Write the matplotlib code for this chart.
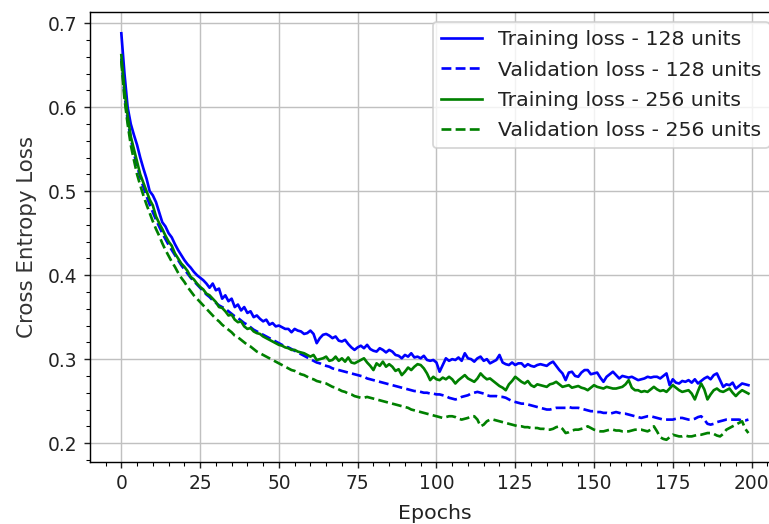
import matplotlib
matplotlib.use("Agg")
import matplotlib.pyplot as plt
import numpy as np

epochs = np.arange(200)

train_loss_128 = [
    0.688, 0.640, 0.600, 0.580, 0.567, 0.555, 0.540, 0.527, 0.515, 0.500,
    0.495, 0.487, 0.475, 0.463, 0.458, 0.450, 0.445, 0.437, 0.430, 0.424,
    0.418, 0.413, 0.409, 0.404, 0.400, 0.397, 0.394, 0.390, 0.385, 0.390,
    0.382, 0.384, 0.372, 0.376, 0.369, 0.372, 0.362, 0.365, 0.358, 0.362,
    0.355, 0.357, 0.350, 0.352, 0.348, 0.345, 0.347, 0.341, 0.343, 0.339,
    0.340, 0.338, 0.336, 0.336, 0.332, 0.336, 0.334, 0.333, 0.330, 0.331,
    0.334, 0.330, 0.319, 0.325, 0.329, 0.330, 0.328, 0.325, 0.327, 0.322,
    0.321, 0.323, 0.318, 0.314, 0.311, 0.314, 0.316, 0.313, 0.317, 0.312,
    0.310, 0.309, 0.313, 0.311, 0.308, 0.311, 0.309, 0.305, 0.304, 0.301,
    0.305, 0.303, 0.307, 0.302, 0.303, 0.301, 0.304, 0.299, 0.298, 0.299,
    0.296, 0.285, 0.293, 0.301, 0.298, 0.300, 0.299, 0.302, 0.298, 0.307,
    0.301, 0.300, 0.297, 0.301, 0.303, 0.298, 0.300, 0.295, 0.297, 0.299,
    0.305, 0.296, 0.294, 0.293, 0.296, 0.293, 0.295, 0.295, 0.291, 0.294,
    0.292, 0.291, 0.293, 0.294, 0.293, 0.292, 0.295, 0.297, 0.292, 0.287,
    0.283, 0.275, 0.284, 0.285, 0.280, 0.279, 0.284, 0.287, 0.287, 0.282,
    0.283, 0.284, 0.278, 0.273, 0.279, 0.282, 0.285, 0.281, 0.277, 0.280,
    0.279, 0.278, 0.279, 0.277, 0.275, 0.276, 0.277, 0.279, 0.278, 0.279,
    0.279, 0.277, 0.280, 0.283, 0.269, 0.276, 0.272, 0.271, 0.274, 0.273,
    0.275, 0.272, 0.276, 0.271, 0.274, 0.277, 0.279, 0.276, 0.281, 0.283,
    0.275, 0.267, 0.270, 0.269, 0.272, 0.265, 0.268, 0.271, 0.270, 0.269,
]

val_loss_128 = [
    0.658, 0.615, 0.585, 0.562, 0.545, 0.530, 0.517, 0.505, 0.494, 0.484,
    0.475, 0.466, 0.458, 0.450, 0.443, 0.436, 0.430, 0.424, 0.418, 0.412,
    0.407, 0.402, 0.397, 0.393, 0.389, 0.385, 0.381, 0.377, 0.374, 0.370,
    0.367, 0.364, 0.362, 0.360, 0.357, 0.354, 0.351, 0.349, 0.346, 0.343,
    0.341, 0.338, 0.335, 0.333, 0.331, 0.329, 0.327, 0.325, 0.323, 0.321,
    0.319, 0.317, 0.315, 0.314, 0.312, 0.310, 0.308, 0.306, 0.304, 0.302,
    0.300, 0.298, 0.296, 0.295, 0.293, 0.292, 0.291, 0.289, 0.288, 0.287,
    0.286, 0.285, 0.284, 0.283, 0.282, 0.281, 0.280, 0.279, 0.277, 0.276,
    0.275, 0.274, 0.273, 0.272, 0.271, 0.270, 0.269, 0.268, 0.267, 0.266,
    0.265, 0.264, 0.263, 0.262, 0.262, 0.261, 0.260, 0.260, 0.259, 0.259,
    0.258, 0.258, 0.257, 0.256, 0.254, 0.253, 0.252, 0.253, 0.255, 0.256,
    0.257, 0.259, 0.260, 0.261, 0.260, 0.259, 0.257, 0.256, 0.256, 0.256,
    0.255, 0.255, 0.254, 0.252, 0.250, 0.249, 0.248, 0.247, 0.247, 0.246,
    0.245, 0.244, 0.243, 0.242, 0.241, 0.240, 0.240, 0.241, 0.242, 0.242,
    0.242, 0.242, 0.243, 0.242, 0.242, 0.242, 0.241, 0.240, 0.239, 0.238,
    0.238, 0.237, 0.237, 0.236, 0.236, 0.235, 0.236, 0.237, 0.236, 0.235,
    0.235, 0.234, 0.233, 0.232, 0.231, 0.230, 0.231, 0.232, 0.232, 0.231,
    0.230, 0.229, 0.228, 0.228, 0.228, 0.228, 0.229, 0.230, 0.230, 0.229,
    0.228, 0.228, 0.229, 0.231, 0.232, 0.228, 0.223, 0.222, 0.223, 0.225,
    0.226, 0.227, 0.228, 0.228, 0.228, 0.228, 0.228, 0.227, 0.227, 0.228,
]

train_loss_256 = [
    0.662, 0.620, 0.590, 0.565, 0.550, 0.535, 0.520, 0.510, 0.500, 0.490,
    0.483, 0.470, 0.462, 0.455, 0.447, 0.440, 0.435, 0.426, 0.420, 0.414,
    0.410, 0.405, 0.398, 0.395, 0.390, 0.386, 0.383, 0.378, 0.376, 0.372,
    0.368, 0.362, 0.361, 0.357, 0.352, 0.353, 0.347, 0.344, 0.345, 0.339,
    0.336, 0.337, 0.333, 0.331, 0.330, 0.327, 0.325, 0.323, 0.321, 0.319,
    0.317, 0.316, 0.314, 0.313, 0.311, 0.311, 0.309, 0.308, 0.307, 0.305,
    0.303, 0.305, 0.299, 0.300, 0.301, 0.303, 0.298, 0.299, 0.303, 0.298,
    0.301, 0.297, 0.302, 0.296, 0.295, 0.297, 0.299, 0.301, 0.296, 0.292,
    0.287, 0.295, 0.292, 0.297, 0.291, 0.294, 0.291, 0.286, 0.288, 0.281,
    0.285, 0.290, 0.287, 0.291, 0.294, 0.293, 0.289, 0.283, 0.275, 0.279,
    0.276, 0.275, 0.278, 0.276, 0.279, 0.276, 0.271, 0.275, 0.278, 0.281,
    0.277, 0.275, 0.273, 0.277, 0.283, 0.279, 0.276, 0.277, 0.274, 0.271,
    0.268, 0.266, 0.263, 0.270, 0.274, 0.279, 0.276, 0.273, 0.271, 0.274,
    0.269, 0.267, 0.270, 0.269, 0.268, 0.267, 0.270, 0.271, 0.273, 0.270,
    0.267, 0.268, 0.269, 0.266, 0.267, 0.268, 0.266, 0.265, 0.263, 0.266,
    0.269, 0.267, 0.266, 0.265, 0.267, 0.266, 0.265, 0.265, 0.266, 0.267,
    0.270, 0.275, 0.266, 0.263, 0.263, 0.261, 0.262, 0.261, 0.264, 0.267,
    0.264, 0.262, 0.263, 0.261, 0.265, 0.269, 0.266, 0.263, 0.261, 0.262,
    0.263, 0.259, 0.252, 0.262, 0.271, 0.264, 0.252, 0.258, 0.263, 0.265,
    0.262, 0.261, 0.263, 0.265, 0.260, 0.256, 0.260, 0.263, 0.261, 0.259,
]

val_loss_256 = [
    0.655, 0.610, 0.580, 0.555, 0.537, 0.520, 0.507, 0.495, 0.484, 0.474,
    0.464, 0.455, 0.447, 0.438, 0.430, 0.423, 0.416, 0.410, 0.403, 0.397,
    0.392, 0.386, 0.381, 0.376, 0.372, 0.368, 0.364, 0.360, 0.356, 0.352,
    0.348, 0.345, 0.341, 0.338, 0.335, 0.332, 0.328, 0.326, 0.323, 0.320,
    0.317, 0.315, 0.312, 0.309, 0.307, 0.305, 0.303, 0.301, 0.299, 0.297,
    0.295, 0.293, 0.291, 0.289, 0.287, 0.286, 0.284, 0.282, 0.281, 0.279,
    0.277, 0.276, 0.274, 0.273, 0.272, 0.271, 0.269, 0.267, 0.266, 0.264,
    0.262, 0.261, 0.259, 0.258, 0.256, 0.255, 0.254, 0.254, 0.255, 0.254,
    0.253, 0.252, 0.251, 0.250, 0.249, 0.248, 0.247, 0.246, 0.245, 0.244,
    0.243, 0.242, 0.240, 0.239, 0.238, 0.237, 0.236, 0.235, 0.234, 0.233,
    0.232, 0.231, 0.230, 0.231, 0.232, 0.232, 0.231, 0.229, 0.228, 0.229,
    0.230, 0.232, 0.232, 0.228, 0.220, 0.222, 0.226, 0.228, 0.228, 0.227,
    0.226, 0.225, 0.224, 0.223, 0.222, 0.221, 0.220, 0.220, 0.219, 0.219,
    0.218, 0.218, 0.218, 0.217, 0.217, 0.216, 0.216, 0.217, 0.219, 0.220,
    0.217, 0.212, 0.213, 0.215, 0.216, 0.216, 0.217, 0.218, 0.220, 0.218,
    0.216, 0.215, 0.214, 0.214, 0.215, 0.216, 0.216, 0.215, 0.215, 0.214,
    0.214, 0.214, 0.215, 0.216, 0.216, 0.216, 0.215, 0.214, 0.216, 0.220,
    0.214, 0.207, 0.205, 0.204, 0.207, 0.210, 0.209, 0.208, 0.208, 0.209,
    0.208, 0.208, 0.209, 0.210, 0.210, 0.211, 0.212, 0.212, 0.211, 0.209,
    0.208, 0.211, 0.216, 0.218, 0.220, 0.222, 0.224, 0.226, 0.217, 0.212,
]

fig = plt.figure(figsize=(769 / 128, 524 / 128), dpi=128)
ax = fig.add_axes([0.117, 0.1183, 0.897, 0.859])

ax.plot(epochs, train_loss_128, color="b", label="Training loss - 128 units")
ax.plot(epochs, val_loss_128, color="b", linestyle="--", label="Validation loss - 128 units")
ax.plot(epochs, train_loss_256, color="g", label="Training loss - 256 units")
ax.plot(epochs, val_loss_256, color="g", linestyle="--", label="Validation loss - 256 units")

ax.set_xlim(-9.95, 208.95)
ax.set_ylim(0.1775, 0.7135)
ax.set_xticks(np.arange(0, 201, 25))
ax.minorticks_on()
ax.tick_params(labelsize=10.5, colors="#222222")
ax.grid(True, which="major", color="#c0c0c0")
ax.set_xlabel("Epochs", fontsize=11.5, color="#222222", labelpad=6)
ax.set_ylabel("Cross Entropy Loss", fontsize=12, color="#333333", labelpad=6)
leg = ax.legend(loc="upper right", fontsize=11.5, labelspacing=0.55)
for text in leg.get_texts():
    text.set_color("#222222")

fig.savefig("out.png", dpi=128)
